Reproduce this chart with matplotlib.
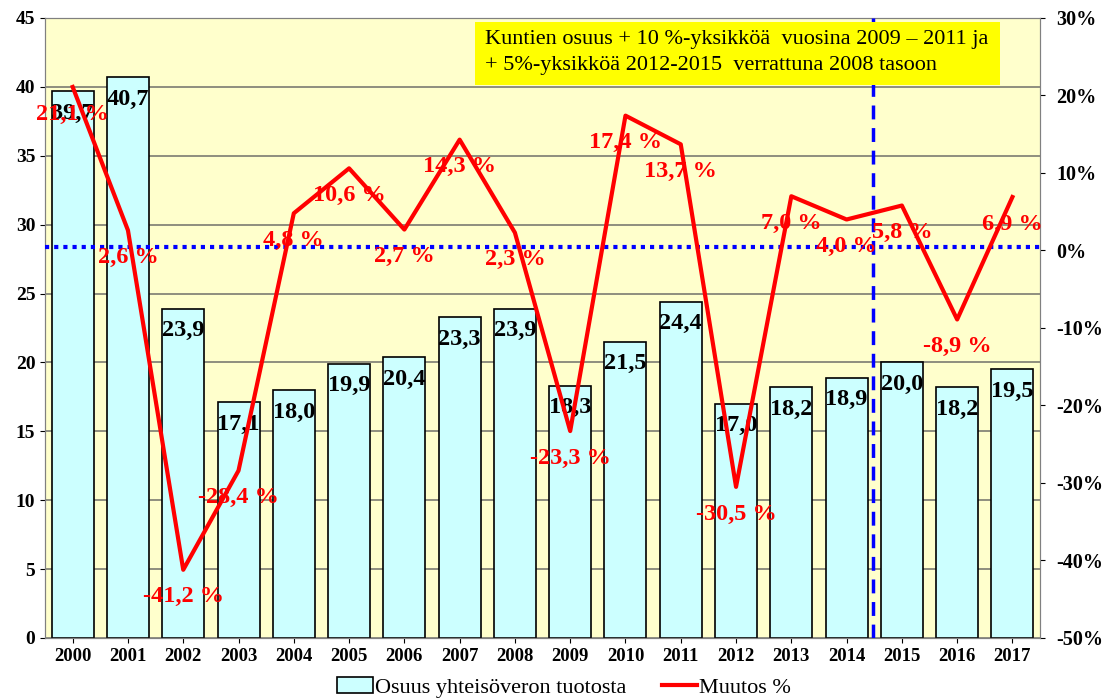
import matplotlib.pyplot as plt
from matplotlib.patches import Rectangle
from matplotlib.ticker import FuncFormatter

years = ["2000", "2001", "2002", "2003", "2004", "2005", "2006", "2007", "2008",
         "2009", "2010", "2011", "2012", "2013", "2014", "2015", "2016", "2017"]
share = [39.7, 40.7, 23.9, 17.1, 18.0, 19.9, 20.4, 23.3, 23.9,
         18.3, 21.5, 24.4, 17.0, 18.2, 18.9, 20.0, 18.2, 19.5]
change = [21.1, 2.6, -41.2, -28.4, 4.8, 10.6, 2.7, 14.3, 2.3,
          -23.3, 17.4, 13.7, -30.5, 7.0, 4.0, 5.8, -8.9, 6.9]

plt.rcParams['font.family'] = ['Liberation Serif', 'DejaVu Serif']

fig = plt.figure(figsize=(11.15, 7), dpi=100)
ax = fig.add_axes([0.0404, 0.0886, 0.8924, 0.8857])
ax.set_facecolor("#FFFFCC")

x = list(range(len(years)))
bars = ax.bar(x, share, width=0.76, color="#CCFFFF", edgecolor="black", linewidth=1.2,
              zorder=2, label="Osuus yhteisöveron tuotosta")
ax.set_ylim(0, 45)
ax.set_xlim(-0.5, len(years) - 0.5)
ax.set_yticks(range(0, 46, 5))
ax.set_xticks(x)
ax.set_xticklabels(years, fontweight="bold", fontsize=13.5)
ax.yaxis.grid(True, color="#868678", linewidth=1.3, zorder=0)
ax.set_axisbelow(True)
for lbl in ax.get_yticklabels():
    lbl.set_fontweight("bold")
    lbl.set_fontsize(14)
for s in ax.spines.values():
    s.set_color("#808080")

# value labels inside bar tops
for xi, v in zip(x, share):
    ax.text(xi, v - 1.6, f"{v:.1f}".replace(".", ","), ha="center", va="center",
            fontsize=17.5, fontweight="bold", zorder=5)

ax2 = ax.twinx()
line, = ax2.plot(x, change, color="red", linewidth=3, zorder=4, label="Muutos %")
ax2.set_ylim(-50, 30)
ax2.set_yticks(range(-50, 31, 10))
ax2.yaxis.set_major_formatter(FuncFormatter(lambda v, p: f"{int(v)}%"))
ax2.tick_params(axis="y", pad=8)
for lbl in ax2.get_yticklabels():
    lbl.set_fontweight("bold")
    lbl.set_fontsize(14.5)
for s in ax2.spines.values():
    s.set_color("#808080")
ax2.axhline(0.5, color="blue", linestyle=(0, (1, 1.2)), linewidth=3, zorder=3)
ax2.axvline(14.47, color="blue", linestyle=(0, (4, 2.5)), linewidth=2.5, zorder=3)

for xi, c in zip(x, change):
    ax2.text(xi, c - 3.5, f"{c:.1f} %".replace(".", ","), ha="center", va="center",
             fontsize=17.5, fontweight="bold", color="red", zorder=6)

ax2.add_patch(Rectangle((0.432, 0.892), 0.528, 0.1015, transform=ax2.transAxes,
                        facecolor="yellow", edgecolor="none", zorder=7))
ax2.text(0.442, 0.9645, "Kuntien osuus + 10 %-yksikköä  vuosina 2009 \u2013 2011 ja",
         transform=ax2.transAxes, fontsize=16, va="center", ha="left", zorder=8)
ax2.text(0.442, 0.9226, "+ 5%-yksikköä 2012-2015  verrattuna 2008 tasoon",
         transform=ax2.transAxes, fontsize=16, va="center", ha="left", zorder=8)

fig.legend([bars, line], ["Osuus yhteisöveron tuotosta", "Muutos %"],
           loc="center", bbox_to_anchor=(0.506, 0.018), ncol=2, frameon=False,
           fontsize=16, handlelength=1.6, columnspacing=1.6, handletextpad=0.1)

fig.savefig("out.png", dpi=100)
